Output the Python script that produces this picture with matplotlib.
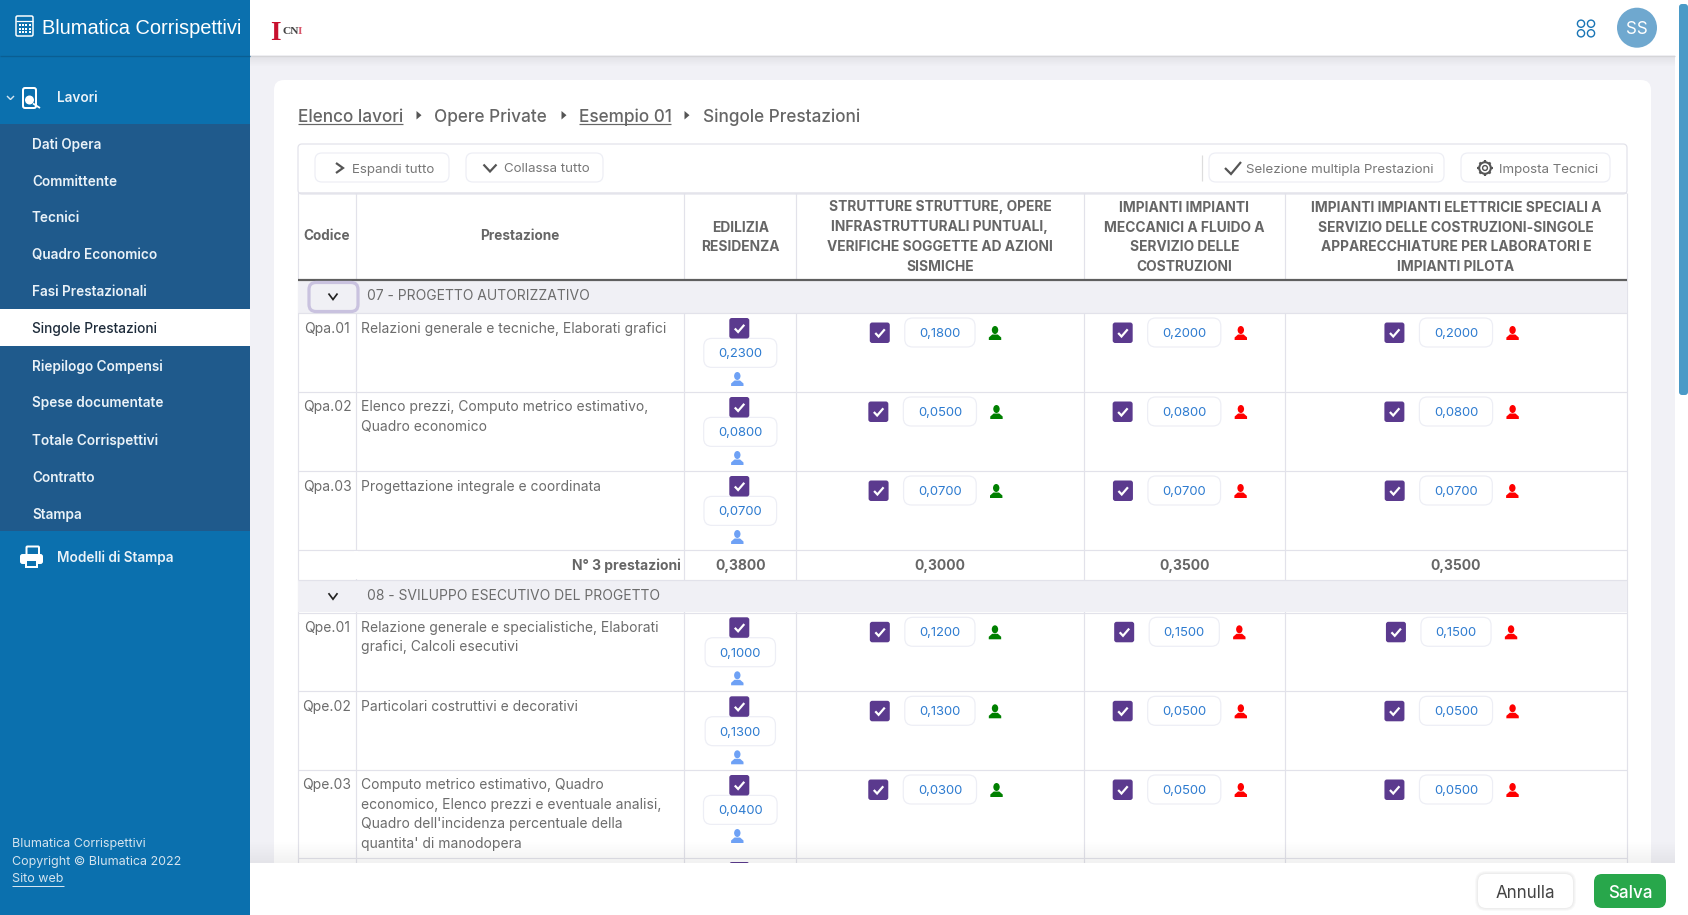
import matplotlib
matplotlib.use('Agg')
import numpy as np
import matplotlib.pyplot as plt
from matplotlib.patches import FancyBboxPatch, Rectangle, Circle, Ellipse, Polygon

# ---- contents of the page
menu_items = ['Dati Opera', 'Committente', 'Tecnici', 'Quadro Economico', 'Fasi Prestazionali',
              'Singole Prestazioni', 'Riepilogo Compensi', 'Spese documentate', 'Totale Corrispettivi',
              'Contratto', 'Stampa']
footer_lines = ['Blumatica Corrispettivi', 'Copyright © Blumatica 2022', 'Sito web']

headers = [['EDILIZIA', 'RESIDENZA'],
           ['STRUTTURE STRUTTURE, OPERE', 'INFRASTRUTTURALI PUNTUALI,', 'VERIFICHE SOGGETTE AD AZIONI', 'SISMICHE'],
           ['IMPIANTI IMPIANTI', 'MECCANICI A FLUIDO A', 'SERVIZIO DELLE', 'COSTRUZIONI'],
           ['IMPIANTI IMPIANTI ELETTRICIE SPECIALI A', 'SERVIZIO DELLE COSTRUZIONI-SINGOLE',
            'APPARECCHIATURE PER LABORATORI E', 'IMPIANTI PILOTA']]

group1_title = '07 - PROGETTO AUTORIZZATIVO'
group1_codes = ['Qpa.01', 'Qpa.02', 'Qpa.03']
group1_desc = [['Relazioni generale e tecniche, Elaborati grafici'],
               ['Elenco prezzi, Computo metrico estimativo,', 'Quadro economico'],
               ['Progettazione integrale e coordinata']]
group1_edilizia = ['0,2300', '0,0800', '0,0700']
group1_strutture = ['0,1800', '0,0500', '0,0700']
group1_meccanici = ['0,2000', '0,0800', '0,0700']
group1_elettrici = ['0,2000', '0,0800', '0,0700']
group1_label = 'N° 3 prestazioni'
group1_totals = ['0,3800', '0,3000', '0,3500', '0,3500']

group2_title = '08 - SVILUPPO ESECUTIVO DEL PROGETTO'
group2_codes = ['Qpe.01', 'Qpe.02', 'Qpe.03']
group2_desc = [['Relazione generale e specialistiche, Elaborati', 'grafici, Calcoli esecutivi'],
               ['Particolari costruttivi e decorativi'],
               ['Computo metrico estimativo, Quadro', 'economico, Elenco prezzi e eventuale analisi,',
                "Quadro dell'incidenza percentuale della", "quantita' di manodopera"]]
group2_edilizia = ['0,1000', '0,1300', '0,0400']
group2_strutture = ['0,1200', '0,1300', '0,0300']
group2_meccanici = ['0,1500', '0,0500', '0,0500']
group2_elettrici = ['0,1500', '0,0500', '0,0500']

# ---- colours
BLUE = '#0b70ae'
DARK_BLUE = '#1f5a8c'
PAGE = '#f1f1f6'
LINE = '#e2e2ea'
GREY = '#666666'
BODY = '#6c6c6c'
PURPLE = '#5b3a8e'
VALUE = '#2d7bd0'

UI = 'Inter'

# the screenshot itself is 1688 px wide
fig = plt.figure(figsize=(16.88, 9.15), dpi=100, facecolor='white')
ax = fig.add_axes([0, 0, 1, 1])
ax.set_xlim(0, 1688)
ax.set_ylim(915, 0)
ax.axis('off')


def txt(x, y, s, px, color=GREY, ha='left', weight='normal', family=UI, z=3):
    return ax.text(x, y, s, fontsize=px * 0.72, color=color, ha=ha, va='center_baseline',
                   fontweight=weight, family=family, zorder=z)


def rect(x0, y0, x1, y1, color, z=1, alpha=1):
    ax.add_patch(Rectangle((x0, y0), x1 - x0, y1 - y0, fc=color, ec='none', zorder=z, alpha=alpha))


def rbox(x0, y0, x1, y1, r, fc='white', ec='none', lw=1.0, z=2):
    ax.add_patch(FancyBboxPatch((x0, y0), x1 - x0, y1 - y0, boxstyle=f'round,pad=0,rounding_size={r}',
                                fc=fc, ec=ec, lw=lw * 0.72, zorder=z))


def line(xs, ys, color=LINE, lw=1.0, z=2, cap='butt'):
    ax.plot(xs, ys, color=color, lw=lw * 0.72, zorder=z, solid_capstyle=cap, solid_joinstyle='miter')


def chevron_down(x, y, w, h, color, lw):
    line([x - w, x, x + w], [y - h, y + h, y - h], color, lw, z=4)


def checkbox(x, y):
    rbox(x, y, x + 20, y + 20.5, 2.5, fc=PURPLE, z=3)
    line([x + 5.5, x + 8.8, x + 15], [y + 10.5, y + 14, y + 6.8], 'white', 2.2, z=4)


def user(cx, top, color):
    ax.add_patch(Ellipse((cx, top + 4), 6.4, 8, fc=color, ec='none', zorder=3))
    ax.add_patch(Polygon([(cx - 6.2, top + 14), (cx - 6.2, top + 11.5), (cx - 2.8, top + 8.5),
                          (cx + 2.8, top + 8.5), (cx + 6.2, top + 11.5), (cx + 6.2, top + 14)],
                         fc=color, ec='none', zorder=3))


def pill(cx, top, value, height=29):
    t = txt(cx, top + height / 2, value, 13, VALUE, ha='center')
    w = t.get_window_extent(renderer=fig.canvas.get_renderer()).width
    half = w / 2 + 14.5
    rbox(cx - half, top, cx + half, top + height, 8, fc='white', ec='#edeef5', lw=1.2)
    return half


def wide_cell(cx, row_top, value, color):
    half = pill(cx, row_top + 5, value)
    checkbox(cx - half - 15 - 20, row_top + 9.5)
    user(cx + half + 14 + 6, row_top + 13, color)


def stacked_cell(cx, row_top, value):
    checkbox(cx - 11, row_top + 5)
    pill(cx, row_top + 25.4, value)
    user(cx - 3, row_top + 59, '#6ea1f5')


# ---- page frame
rect(250, 0, 1675, 915, PAGE, z=0)
rect(250, 0, 1675, 55, 'white', z=1)
line([250, 1675], [55.5, 55.5], '#d5d5d8', 1.2, z=2)
for i in range(10):
    rect(250, 56 + i, 1675, 57 + i, '#000000', z=1, alpha=0.012 * (10 - i) / 2)
rect(1675, 0, 1688, 915, 'white', z=1)
rbox(1679, 4, 1688, 395, 3, fc='#4a9ac7', z=2)
rbox(274, 80, 1651, 940, 10, fc='white', z=1)

# top bar
txt(270.5, 30, 'I', 27, '#c8102e', weight='bold', family='Liberation Serif')
txt(282.5, 30, 'CN', 11.5, '#444444', weight='bold', family='Liberation Serif')
txt(298, 30, 'I', 11.5, '#d8566b', weight='bold', family='Liberation Serif')
for cx in (1581, 1591):
    for cy in (23.7, 33.3):
        ax.add_patch(Circle((cx, cy), 3.6, fc='none', ec='#1a75b5', lw=1.0, zorder=3))
ax.add_patch(Circle((1637, 27.7), 20, fc='#6fa8cf', ec='none', zorder=3))
txt(1637, 28, 'SS', 17, 'white', ha='center', z=4)

# breadcrumb
crumbs = [('Elenco lavori', 298, 403, True), ('Opere Private', 434, 547, False),
          ('Esempio 01', 579, 671, True), ('Singole Prestazioni', 703, 861, False)]
for label, x0, x1, linked in crumbs:
    txt(x0, 115, label, 17.2, GREY, weight='medium')
    if linked:
        line([x0, x1], [123.5, 123.5], GREY, 1.2)
for x in (416.5, 561.5, 684.5):
    ax.add_patch(Polygon([(x, 111), (x, 119.5), (x + 5, 115.2)], fc='#555555', ec='none', zorder=3))

# toolbar
rbox(298, 144, 1627, 194, 4, fc='white', ec=LINE, lw=1.2)
for x0, x1 in ((315, 449), (466, 603), (1209, 1444), (1461, 1610)):
    rbox(x0, 153, x1, 182, 7, fc='white', ec='#edeef5', lw=1.2)
line([1202, 1202], [155, 181], '#dddddd', 1.2)
line([336, 343, 336], [163, 168, 173], '#555555', 2.2, z=4)
chevron_down(490, 168, 6.5, 3.5, '#555555', 2.2)
line([1225, 1231, 1241], [168, 174, 162], '#555555', 2.2, z=4)
ax.add_patch(Circle((1485, 168), 5.8, fc='none', ec='#555555', lw=1.5, zorder=3))
ax.add_patch(Circle((1485, 168), 2.4, fc='none', ec='#555555', lw=1.0, zorder=3))
for a in np.arange(0, 360, 45):
    c, s = np.cos(np.radians(a)), np.sin(np.radians(a))
    line([1485 + 5.6 * c, 1485 + 7.8 * c], [168 + 5.6 * s, 168 + 7.8 * s], '#555555', 2.2, z=4)
txt(352, 168, 'Espandi tutto', 13.3, '#777777')
txt(504, 168, 'Collassa tutto', 13.3, '#777777')
txt(1246, 168, 'Selezione multipla Prestazioni', 13.3, '#777777')
txt(1499, 168, 'Imposta Tecnici', 13.3, '#777777')

# ---- table
col_x = [298.3, 355.7, 684.3, 796.3, 1083.5, 1285, 1627]
col_c = [(col_x[i] + col_x[i + 1]) / 2 for i in range(len(col_x) - 1)]
rect(298, 193, 1627, 915, 'white', z=1)

line([298, 1627], [193, 193], LINE, 1.5)
txt(327, 235, 'Codice', 13.6, GREY, ha='center', weight='bold')
txt(520, 235, 'Prestazione', 13.6, GREY, ha='center', weight='bold')
for col, head in enumerate(headers):
    ys = [226, 245.5] if len(head) == 2 else [206, 226, 245.5, 265.5]
    for y, s in zip(ys, head):
        txt(col_c[col + 2], y, s, 13.8, GREY, ha='center', weight='bold')

for x in col_x:
    line([x, x], [193, 863], LINE, 1.2, z=2)


def group(top, title, focused):
    rect(298, top, 1627, top + 32.6, '#f0f0f5', z=2)
    line([298, 1627], [top + 32.8, top + 32.8], LINE, 1.2, z=2)
    if focused:
        rbox(309, top + 2.5, 358, top + 31.5, 7, fc='none', ec='#c9c2df', lw=3.2, z=3)
    chevron_down(333, top + 16.5, 4.5, 3, '#222222', 1.7)
    txt(367, top + 15, title, 13.9, BODY)


def rows(top, heights, codes, desc, edil, strut, mecc, elet):
    y = top
    for i in range(len(codes)):
        txt(327, y + 14, codes[i], 13.9, BODY, ha='center')
        for j, s in enumerate(desc[i]):
            txt(361, y + 14 + j * 19.4, s, 13.9, BODY)
        stacked_cell(col_c[2], y, edil[i])
        wide_cell(col_c[3], y, strut[i], '#008000')
        wide_cell(col_c[4], y, mecc[i], '#ff0000')
        wide_cell(col_c[5], y, elet[i], '#ff0000')
        y += heights[i]
        line([298, 1627], [y, y], LINE, 1.2, z=2)


line([298, 1627], [279.5, 279.5], '#5f5f5f', 2.2, z=3)
group(280, group1_title, True)
rows(313, [79, 79, 79], group1_codes, group1_desc, group1_edilizia, group1_strutture,
     group1_meccanici, group1_elettrici)
# the total row spans the first two columns
rect(354, 551, 358, 579, 'white', z=2)
line([298, 1627], [579.7, 579.7], LINE, 1.2, z=3)
txt(681, 564.5, group1_label, 13.9, GREY, ha='right', weight='bold')
for c, val in zip(col_c[2:], group1_totals):
    txt(c, 564.5, val, 13.9, GREY, ha='center', weight='bold')
group(579.7, group2_title, False)
rows(612.3, [79, 78.7, 87.5], group2_codes, group2_desc, group2_edilizia, group2_strutture,
     group2_meccanici, group2_elettrici)
checkbox(col_c[2] - 11, 862)

# shadow above the footer bar
for i in range(22):
    rect(250, 841 + i, 1675, 842 + i, '#000000', z=9, alpha=0.0065 * i / 2.6)

# ---- footer bar
rect(250, 863, 1688, 915, 'white', z=10)
for i in range(4):
    rbox(1478 - i, 874 - i, 1573 + i, 908 + i, 8 + i, fc='#000000', z=10)
    ax.patches[-1].set_alpha(0.025)
rbox(1478, 874, 1573, 908, 8, fc='white', z=10.5)
txt(1525.5, 891, 'Annulla', 17, '#444444', ha='center', z=11)
rbox(1594, 874, 1666, 908, 8, fc='#28a74b', z=10.5)
txt(1630, 891, 'Salva', 17, 'white', ha='center', weight='medium', z=11)

# ---- sidebar
rect(0, 0, 250, 915, BLUE, z=12)
line([0, 250], [55.5, 55.5], '#0a5e93', 1.3, z=13)
rect(0, 124, 250, 531, DARK_BLUE, z=13)
rect(0, 309, 250, 346, 'white', z=14)
txt(42, 26, 'Blumatica Corrispettivi', 20, 'white', family='Liberation Sans', z=15)
txt(57, 97, 'Lavori', 13.6, '#eaf2f8', weight='semibold', z=15)
txt(57, 556.5, 'Modelli di Stampa', 13.6, '#eaf2f8', weight='semibold', z=15)
for i, item in enumerate(menu_items):
    color = '#1d2b3a' if item == 'Singole Prestazioni' else '#eaf2f8'
    txt(32, 143 + i * 37, item, 13.6, color, weight='semibold' if color != '#1d2b3a' else 'medium', z=15)
for i, s in enumerate(footer_lines):
    txt(12, 842 + i * 18, s, 12.5, '#d5e4ef', z=15)
line([12, 64], [885.5, 885.5], '#d5e4ef', 1.0, z=15)

# sidebar icons
rbox(16, 16, 33, 36, 1.5, fc='none', ec='white', lw=1.5, z=15)
line([16, 33], [21, 21], 'white', 1.2, z=15)
for col in range(4):
    for r in range(3):
        rect(18.5 + col * 3.4, 24 + r * 3.6, 20.5 + col * 3.4, 26 + r * 3.6, 'white', z=15)
line([7, 10.5, 14], [96, 99.5, 96], '#d5e4ef', 1.4, z=15)
rbox(23, 88, 36, 108, 2, fc='none', ec='white', lw=2, z=15)
ax.add_patch(Circle((29.5, 100), 4.5, fc='white', ec='none', zorder=15))
line([33, 40], [103.5, 108], 'white', 1.8, z=15)
# printer
rbox(20, 554, 43, 564, 2.5, fc='white', z=15)
rbox(26.5, 546.5, 39, 556, 1, fc='none', ec='white', lw=2, z=15)
rect(25, 560, 38, 567.5, 'white', z=15)
rect(27, 561, 36, 565.5, BLUE, z=15.5)

fig.savefig('out.png', dpi=100, facecolor='white')
